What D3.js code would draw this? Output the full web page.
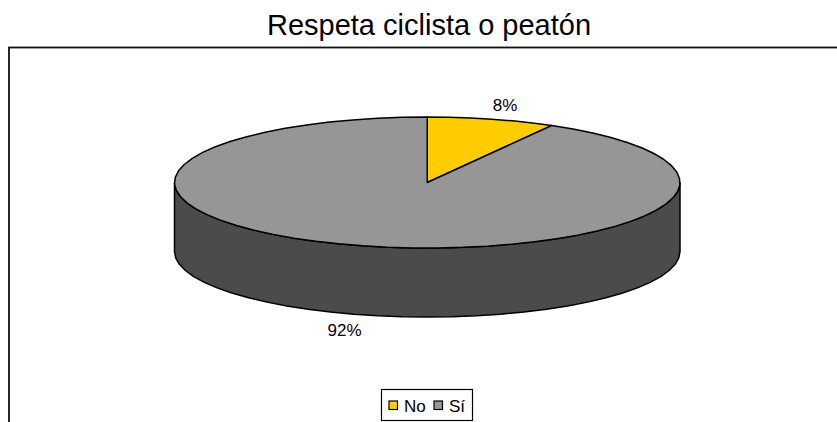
<!DOCTYPE html>
<html>
<head>
<meta charset="utf-8">
<script src="https://cdn.jsdelivr.net/npm/d3@7"></script>
<style>
  html, body { margin: 0; padding: 0; background: #fff; overflow: hidden; }
  text { font-family: "Liberation Sans", Arial, sans-serif; fill: #000; }
</style>
</head>
<body>
<div id="chart"></div>
<script>
const title = "Respeta ciclista o peatón";
const categories = ["No", "Sí"];
const values = [8.2, 91.8];
const colors = ["#ffcc00", "#969696"];
const sideColor = "#4b4b4b";

const width = 837, height = 422;

const svg = d3.select("#chart").append("svg")
  .attr("width", width)
  .attr("height", height)
  .style("display", "block");

// chart frame, runs off the page on right and bottom
svg.append("rect")
  .attr("x", 9).attr("y", 47.5)
  .attr("width", width + 20).attr("height", height)
  .attr("fill", "#fff")
  .attr("stroke", "#111")
  .attr("stroke-width", 1.8);

svg.append("text")
  .attr("x", 429).attr("y", 35)
  .attr("text-anchor", "middle")
  .style("font-size", "29px")
  .text(title);

// the pie is a tilted circle: unit circle mapped on to an ellipse
const x = d3.scaleLinear().domain([-1, 1]).range([174.5, 680]);
const y = d3.scaleLinear().domain([-1, 1]).range([117, 248]);
const depth = 69;

const px = (a) => x(Math.sin(a));
const py = (a) => y(-Math.cos(a));

const pie = d3.pie().sort(null).value((d) => d);
const arcs = pie(values);

const line = d3.line().x((d) => d[0]).y((d) => d[1]);

// points along the rim between two angles, coarse so the edge is faceted
function rim(a0, a1, dy = 0) {
  const n = Math.max(2, Math.ceil(Math.abs(a1 - a0) / 0.1));
  return d3.range(n + 1).map((i) => {
    const a = a0 + ((a1 - a0) * i) / n;
    return [px(a), py(a) + dy];
  });
}

// side wall, only the front half shows
const front = [Math.PI / 2, (3 * Math.PI) / 2];
svg.append("path")
  .attr("d", line(rim(front[0], front[1]).concat(rim(front[1], front[0], depth))) + "Z")
  .attr("fill", sideColor)
  .attr("stroke", "#000")
  .attr("stroke-width", 1.5)
  .attr("stroke-linejoin", "round");

// top slices
svg.selectAll("path.slice")
  .data(arcs)
  .join("path")
  .attr("class", "slice")
  .attr("d", (d) => line([[x(0), y(0)]].concat(rim(d.startAngle, d.endAngle))) + "Z")
  .attr("fill", (d, i) => colors[i])
  .attr("stroke", "#000")
  .attr("stroke-width", 1.5)
  .attr("stroke-linejoin", "round");

// percent labels
const labelPos = [[505, 111], [344.5, 336]];
svg.selectAll("text.pct")
  .data(arcs)
  .join("text")
  .attr("class", "pct")
  .attr("x", (d, i) => labelPos[i][0])
  .attr("y", (d, i) => labelPos[i][1])
  .attr("text-anchor", "middle")
  .style("font-size", "17px")
  .text((d) => Math.round(d.data) + "%");

// legend
svg.append("rect")
  .attr("x", 381.5).attr("y", 389.5)
  .attr("width", 91).attr("height", 31)
  .attr("fill", "#fff")
  .attr("stroke", "#000")
  .attr("stroke-width", 1.2);

const legendX = [389, 434];
const item = svg.selectAll("g.item")
  .data(categories)
  .join("g")
  .attr("class", "item")
  .attr("transform", (d, i) => "translate(" + legendX[i] + ",401)");

item.append("rect")
  .attr("width", 8.5).attr("height", 8.5)
  .attr("fill", (d, i) => colors[i])
  .attr("stroke", "#000")
  .attr("stroke-width", 1.2);

item.append("text")
  .attr("x", 15).attr("y", 11)
  .style("font-size", "17px")
  .text((d) => d);
</script>
</body>
</html>
